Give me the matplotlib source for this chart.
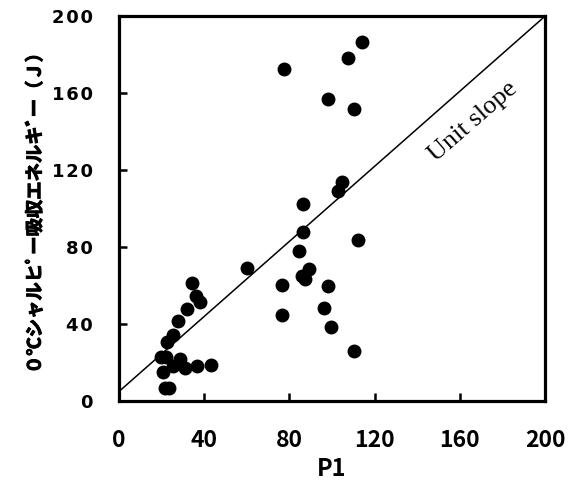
import matplotlib
matplotlib.use("Agg")
import matplotlib.pyplot as plt
import matplotlib.patheffects as pe
from matplotlib.ticker import FuncFormatter

# Data
p1 = [113.9, 107.4, 77.6, 98.0, 110.5, 104.5, 102.7, 86.2, 86.2, 112.4,
      84.5, 60.2, 89.3, 85.8, 87.3, 76.7, 98.0, 76.7, 96.4, 99.5, 110.5,
      34.1, 36.0, 38.0, 31.8, 27.9, 25.5, 22.7, 19.6, 21.9, 20.8, 25.5,
      28.6, 31.0, 36.5, 43.0, 21.6, 23.6]
energy = [186.7, 178.0, 172.5, 156.7, 151.5, 113.6, 109.0, 102.2, 88.0, 83.5,
          78.0, 69.3, 68.4, 65.0, 63.7, 60.3, 59.7, 44.7, 48.2, 38.4, 26.0,
          61.5, 54.5, 51.6, 47.8, 41.7, 34.3, 30.5, 22.7, 22.7, 15.2, 18.2,
          21.8, 17.3, 18.2, 19.0, 6.9, 6.9]
ref_x = [0, 200]
ref_y = [5, 200]
ticks = [0, 40, 80, 120, 160, 200]

fig = plt.figure(figsize=(5.72, 4.88), dpi=100)
ax = fig.add_axes([0.208, 0.178, 0.745, 0.789])

ax.plot(ref_x, ref_y, color="black", lw=1.1, zorder=2)
ax.plot(p1, energy, "o", color="black", ms=9, zorder=3)

ax.set_xlim(0, 200)
ax.set_ylim(0, 200)
ax.set_xticks(ticks)
ax.set_yticks(ticks)

for s in ax.spines.values():
    s.set_linewidth(2.3)
    s.set_color("black")

ax.tick_params(axis="both", direction="in", length=6, width=1.8,
               top=False, right=False)
ax.tick_params(axis="x", pad=20)
ax.tick_params(axis="y", pad=19)

ax.yaxis.set_major_formatter(FuncFormatter(lambda v, p: "\u200a".join(str(int(v)))))
for lab in ax.get_xticklabels():
    lab.set_fontfamily(["Noto Sans CJK JP", "DejaVu Sans"])
    lab.set_fontweight("bold")
    lab.set_fontsize(16.5)
for lab in ax.get_yticklabels():
    lab.set_fontfamily(["DejaVu Sans"])
    lab.set_fontweight("bold")
    lab.set_fontsize(13)

ax.set_xlabel("P1", fontsize=17, fontweight="bold",
              family=["Noto Sans CJK JP", "DejaVu Sans"], labelpad=4)
yl = ax.set_ylabel("０℃シャルヒﾟー吸収エネルキﾞー（Ｊ）", fontsize=13.2, fontweight="bold",
                   family=["Noto Sans CJK JP", "DejaVu Sans"], labelpad=5)
yl.set_path_effects([pe.withStroke(linewidth=0.7, foreground="black")])

ax.text(166, 145, "Unit slope", rotation=41, rotation_mode="anchor",
        ha="center", va="center", fontsize=19,
        family=["Liberation Serif", "DejaVu Serif"])

fig.savefig("out.png", dpi=100)
